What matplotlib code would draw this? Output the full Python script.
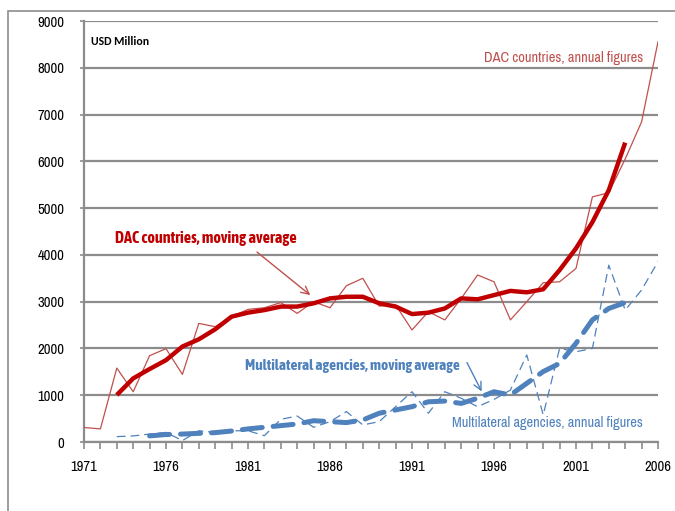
import numpy as np
import matplotlib
matplotlib.use('Agg')
import matplotlib.pyplot as plt
from matplotlib.patches import Rectangle

# annual figures, USD million
years = list(range(1971, 2007))
dac_annual = [310, 280, 1580, 1075, 1845, 1995, 1445, 2535, 2465, 2680, 2835, 2870,
              2980, 2750, 3000, 2870, 3340, 3500, 2905, 2930, 2395, 2785, 2610, 3070,
              3570, 3425, 2610, 3000, 3405, 3425, 3710, 5240, 5330, 6050, 6845, 8555]

dac_ma_years = list(range(1973, 2005))
dac_ma = [1005, 1360, 1560, 1750, 2040, 2195, 2410, 2680, 2765, 2820, 2895, 2895,
          2965, 3070, 3105, 3105, 2965, 2895, 2735, 2765, 2855, 3070, 3050, 3140,
          3230, 3200, 3265, 3675, 4140, 4700, 5385, 6400]

multi_years = list(range(1973, 2007))
multi_annual = [115, 130, 170, 205, 30, 240, 205, 240, 240, 135, 485, 555, 315, 435,
                650, 365, 435, 755, 1075, 615, 1075, 935, 755, 910, 1110, 1860, 580,
                2000, 1930, 2000, 3780, 2820, 3250, 3855]

multi_ma_years = list(range(1975, 2005))
multi_ma = [130, 160, 170, 185, 200, 235, 280, 315, 350, 385, 455, 435, 415, 470,
            615, 685, 755, 860, 875, 825, 935, 1075, 1005, 1255, 1505, 1680, 2110,
            2610, 2855, 2980]

narrow = ['Archivo Narrow', 'Liberation Sans', 'DejaVu Sans']
narrow_bold = ['Asap Condensed', 'Barlow Semi Condensed', 'Liberation Sans', 'DejaVu Sans']
plt.rcParams['font.family'] = narrow

red_thin = '#C0504D'
red_thick = '#C00000'
blue = '#4F81BD'
grey = '#8C8C8C'

fig = plt.figure(figsize=(6.75, 5.11), dpi=100)
ax = fig.add_axes([84/675, 1-442/511, 574/675, 421/511])

# frame around the whole chart area
fig.patches.append(Rectangle((8/675, -0.1), 1.2, 1-11/511+0.1, transform=fig.transFigure,
                             fill=False, edgecolor=grey, linewidth=1.2))

ax.plot(years, dac_annual, color=red_thin, lw=0.9, zorder=3)
ax.plot(dac_ma_years, dac_ma, color=red_thick, lw=3.2, zorder=4, solid_capstyle='butt')
ax.plot(multi_years, multi_annual, color=blue, lw=0.9, dashes=(7, 4), zorder=3)
ax.plot(multi_ma_years, multi_ma, color=blue, lw=3.6, dashes=(4, 2.2), zorder=4,
        dash_capstyle='round')

ax.set_xlim(1971, 2006)
ax.set_ylim(0, 9000)
ax.set_yticks(range(0, 9001, 1000))
ax.set_xticks(range(1971, 2007, 5))
ax.set_xticks(range(1971, 2007), minor=True)
ax.grid(axis='y', color=grey, lw=1.6)
ax.set_axisbelow(True)
for s in ['top', 'right']:
    ax.spines[s].set_visible(False)
for s in ['left', 'bottom']:
    ax.spines[s].set_color(grey)
    ax.spines[s].set_linewidth(1.6)
ax.tick_params(axis='x', which='both', direction='out', length=5, color=grey, width=1.2,
               labelsize=10.5, pad=8)
ax.tick_params(axis='y', direction='out', length=3, color=grey, width=1.2,
               labelsize=10.5, pad=11)

ax.text(1971.45, 8560, 'USD Million', fontsize=8.5, fontweight='bold', color='black',
        family=['Carlito', 'Liberation Sans'], va='center')
ax.text(2005.1, 8200, 'DAC countries, annual figures', fontsize=10.4, color=red_thin,
        ha='right', va='center')
ax.text(1972.9, 4370, 'DAC countries, moving average', fontsize=11.6, fontweight='bold',
        color=red_thick, va='center', family=narrow_bold)
ax.text(1980.8, 1630, 'Multilateral agencies, moving average', fontsize=11,
        fontweight='bold', color=blue, va='center', family=narrow_bold)
ax.text(2005.1, 410, 'Multilateral agencies, annual figures', fontsize=10.3, color=blue,
        ha='right', va='center')

ax.annotate('', xy=(1984.8, 3140), xytext=(1981.55, 4060),
            arrowprops=dict(arrowstyle='->', color=red_thin, lw=1.0,
                            mutation_scale=14, shrinkA=0, shrinkB=0))
ax.annotate('', xy=(1995.25, 1080), xytext=(1994.35, 1700),
            arrowprops=dict(arrowstyle='->', color=blue, lw=1.0,
                            mutation_scale=14, shrinkA=0, shrinkB=0))

fig.savefig('out.png', dpi=100)
